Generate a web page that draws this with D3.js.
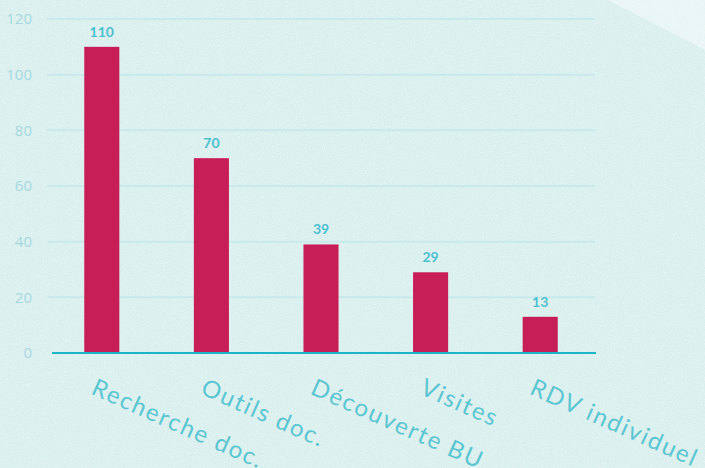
<!DOCTYPE html>
<html>
<head>
<meta charset="utf-8">
<script src="https://cdn.jsdelivr.net/npm/d3@7.9.0/dist/d3.min.js"></script>
<style>
  html, body { margin: 0; padding: 0; background: #ddf1ef; }
  svg { display: block; }
</style>
</head>
<body>
<div id="chart"></div>
<script>
// chart data
const categories = ["Recherche doc.", "Outils doc.", "Découverte BU", "Visites", "RDV individuel"];
const values = [110, 70, 39, 29, 13];
const yTicks = [0, 20, 40, 60, 80, 100, 120];

const width = 705;
const height = 468;

const svg = d3.select("#chart")
  .append("svg")
  .attr("width", width)
  .attr("height", height);

// background with a light grain
const defs = svg.append("defs");
const noise = defs.append("filter").attr("id", "grain")
  .attr("x", 0).attr("y", 0).attr("width", "100%").attr("height", "100%");
noise.append("feTurbulence")
  .attr("type", "fractalNoise")
  .attr("baseFrequency", 0.9)
  .attr("numOctaves", 2)
  .attr("seed", 3);
noise.append("feColorMatrix")
  .attr("type", "matrix")
  .attr("values", "0 0 0 0 1  0 0 0 0 1  0 0 0 0 1  0 0 0 -1.4 0.9");

svg.append("rect")
  .attr("width", width).attr("height", height)
  .attr("fill", "#d8efed");
svg.append("rect")
  .attr("width", width).attr("height", height)
  .attr("filter", "url(#grain)")
  .attr("opacity", 0.5);

// lighter corner top right
svg.append("path")
  .attr("d", `M608,0 L${width},0 L${width},50 Z`)
  .attr("fill", "#ffffff")
  .attr("opacity", 0.4);

const x = d3.scaleBand()
  .domain(categories)
  .range([47, 595])
  .paddingInner(0.68)
  .paddingOuter(0.34);

const y = d3.scaleLinear()
  .domain([0, 120])
  .range([353, 19]);

// gridlines
svg.append("g")
  .selectAll("line")
  .data(yTicks.filter(d => d > 0))
  .join("line")
  .attr("x1", 47)
  .attr("x2", 595)
  .attr("y1", d => y(d))
  .attr("y2", d => y(d))
  .attr("stroke", "#c9e9ea")
  .attr("stroke-width", 2);

// y tick labels
svg.append("g")
  .selectAll("text")
  .data(yTicks)
  .join("text")
  .attr("x", 32)
  .attr("y", d => y(d))
  .attr("dy", "0.35em")
  .attr("text-anchor", "end")
  .attr("font-family", "'Open Sans', sans-serif")
  .attr("font-size", 15)
  .attr("fill", "#a6d8df")
  .text(d => d);

// bars
svg.append("g")
  .selectAll("rect")
  .data(values)
  .join("rect")
  .attr("x", (d, i) => x(categories[i]))
  .attr("y", d => y(d))
  .attr("width", x.bandwidth())
  .attr("height", d => y(0) - y(d))
  .attr("fill", "#c81e57");

// value labels
svg.append("g")
  .selectAll("text")
  .data(values)
  .join("text")
  .attr("x", (d, i) => x(categories[i]) + x.bandwidth() / 2)
  .attr("y", d => y(d) - 10)
  .attr("text-anchor", "middle")
  .attr("font-family", "Lato, sans-serif")
  .attr("font-weight", "bold")
  .attr("font-size", 14)
  .attr("fill", "#4cbfd0")
  .text(d => d);

// baseline
svg.append("line")
  .attr("x1", 52)
  .attr("x2", 596)
  .attr("y1", y(0))
  .attr("y2", y(0))
  .attr("stroke", "#1db4c9")
  .attr("stroke-width", 2);

// x labels, rotated
svg.append("g")
  .selectAll("text")
  .data(categories)
  .join("text")
  .attr("transform", d => `translate(${x(d) + x.bandwidth() / 2 - 4},376) rotate(24)`)
  .attr("dominant-baseline", "hanging")
  .attr("font-family", "Lato, sans-serif")
  .attr("font-size", 24)
  .attr("letter-spacing", 1.8)
  .attr("fill", "#5bc5d2")
  .text(d => d);
</script>
</body>
</html>
